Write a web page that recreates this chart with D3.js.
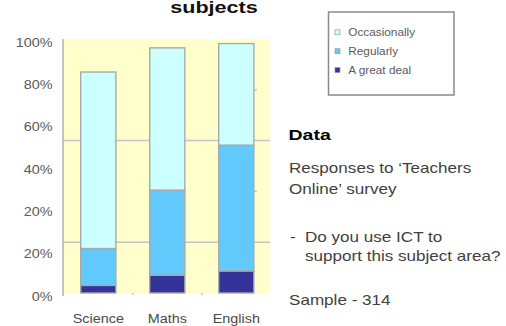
<!DOCTYPE html>
<html>
<head>
<meta charset="utf-8">
<script src="https://cdn.jsdelivr.net/npm/d3@7"></script>
<style>
  html, body { margin: 0; padding: 0; background: #fff; }
  svg { display: block; font-family: "Liberation Sans", Arial, sans-serif; }
</style>
</head>
<body>
<svg id="chart" width="506" height="326"></svg>
<script>
// Survey responses per subject (share of teachers)
const subjects = ["Science", "Maths", "English"];
const greatDeal = [0.03, 0.07, 0.087];
const regularly = [0.145, 0.335, 0.495];
const occasionally = [0.695, 0.56, 0.40];
const seriesNames = ["Occasionally", "Regularly", "A great deal"];
const yTickLabels = ["0%", "20%", "20%", "40%", "60%", "80%", "100%"];
const gridValues = [0.2, 0.6];
const stubValues = [0.4, 0.8];
const notes = [
  "Responses to \u2018Teachers",
  "Online\u2019 survey",
  "Do you use ICT to",
  "support this subject area?",
  "Sample - 314"
];

const colors = {
  "A great deal": "#333399",
  "Regularly": "#62C9FC",
  "Occasionally": "#CCFFFF"
};

const svg = d3.select("#chart");
const plot = { left: 63, right: 270, top: 39, bottom: 293 };
const sx = 1.2; // horizontal stretch of lettering

function label(parent, x, y, text, opts = {}) {
  return parent.append("text")
    .attr("transform", `translate(${x},${y}) scale(${opts.scale || sx},1)`)
    .attr("text-anchor", opts.anchor || "start")
    .attr("font-size", opts.size || 12)
    .attr("font-weight", opts.weight || "normal")
    .attr("fill", opts.fill || "#444")
    .text(text);
}

const x = d3.scaleBand()
  .domain(subjects)
  .range([plot.left + 0.8, plot.right + 0.8])
  .paddingInner(0.49)
  .paddingOuter(0.245);

const y = d3.scaleLinear().domain([0, 1]).range([plot.bottom, plot.top]);
const yLabelPos = d3.scalePoint().domain(d3.range(yTickLabels.length)).range([plot.bottom, plot.top]);

// plot background
svg.append("rect")
  .attr("x", plot.left).attr("y", plot.top)
  .attr("width", plot.right - plot.left).attr("height", plot.bottom - plot.top)
  .attr("fill", "#FFFFCC");

// gridlines
svg.append("g").selectAll("line").data(gridValues).join("line")
  .attr("x1", plot.left).attr("x2", plot.right)
  .attr("y1", d => y(d)).attr("y2", d => y(d))
  .attr("stroke", "#c4c4c4").attr("stroke-width", 1.5);

svg.append("g").selectAll("line").data(stubValues).join("line")
  .attr("x1", x("English") + x.bandwidth()).attr("x2", x("English") + x.bandwidth() + 3)
  .attr("y1", d => y(d)).attr("y2", d => y(d))
  .attr("stroke", "#c4c4c4").attr("stroke-width", 1.5);

// stacked bars
const rows = subjects.map((s, i) => ({
  subject: s,
  "A great deal": greatDeal[i],
  "Regularly": regularly[i],
  "Occasionally": occasionally[i]
}));
const stack = d3.stack().keys(["A great deal", "Regularly", "Occasionally"])(rows);

svg.append("g").selectAll("g").data(stack).join("g")
  .attr("fill", d => colors[d.key])
  .selectAll("rect").data(d => d).join("rect")
  .attr("x", d => x(d.data.subject))
  .attr("width", x.bandwidth())
  .attr("y", d => y(d[1]))
  .attr("height", d => y(d[0]) - y(d[1]))
  .attr("stroke", "#a9a9a9")
  .attr("stroke-width", 1.4);

// left axis line
svg.append("line")
  .attr("x1", plot.left).attr("x2", plot.left)
  .attr("y1", plot.top).attr("y2", plot.bottom + 3)
  .attr("stroke", "#b0b0b0").attr("stroke-width", 1.5);

// category separator ticks
const step = x.step();
svg.append("g").selectAll("line").data(subjects.slice(1)).join("line")
  .attr("x1", d => x(d) - step * x.paddingInner() / 2)
  .attr("x2", d => x(d) - step * x.paddingInner() / 2)
  .attr("y1", plot.bottom).attr("y2", plot.bottom + 2)
  .attr("stroke", "#b0b0b0").attr("stroke-width", 1);

// y tick labels
const yAxisG = svg.append("g");
yTickLabels.forEach((t, i) => {
  label(yAxisG, 52.5, yLabelPos(i) + 7.6, t, { anchor: "end", size: 12, fill: "#5a5a5a" });
});

// x labels
const xAxisG = svg.append("g");
subjects.forEach(s => {
  label(xAxisG, x(s) + x.bandwidth() / 2, 322.5, s, { anchor: "middle", size: 12, fill: "#4a4a4a" });
});

// title (second line)
label(svg, 214, 13, "subjects", { anchor: "middle", size: 16, weight: "bold", fill: "#111", scale: 1.35 });

// legend
const lg = svg.append("g");
lg.append("rect")
  .attr("x", 328.5).attr("y", 12).attr("width", 125.5).attr("height", 83)
  .attr("fill", "#fff").attr("stroke", "#8a8a8a").attr("stroke-width", 1.5);
seriesNames.forEach((name, i) => {
  const cy = 32.3 + i * 18.9;
  lg.append("rect")
    .attr("x", 335).attr("y", cy - 2.5).attr("width", 5).attr("height", 5)
    .attr("fill", colors[name]).attr("stroke", "#999").attr("stroke-width", 0.7);
  label(lg, 348.3, cy + 3.5, name, { size: 10, fill: "#5a5a5a", scale: 1.18 });
});

// side notes
label(svg, 288.5, 139.5, "Data", { size: 15, weight: "bold", fill: "#000", scale: 1.3 });
const noteY = [173, 194, 242, 260.5, 305];
const noteX = [289, 289, 305, 305, 289];
notes.forEach((t, i) => {
  label(svg, noteX[i], noteY[i], t, { size: 14, fill: "#3f3f3f", scale: 1.22 });
});
label(svg, 290, 242, "-", { size: 14, fill: "#3f3f3f", scale: 1.22 });
</script>
</body>
</html>
